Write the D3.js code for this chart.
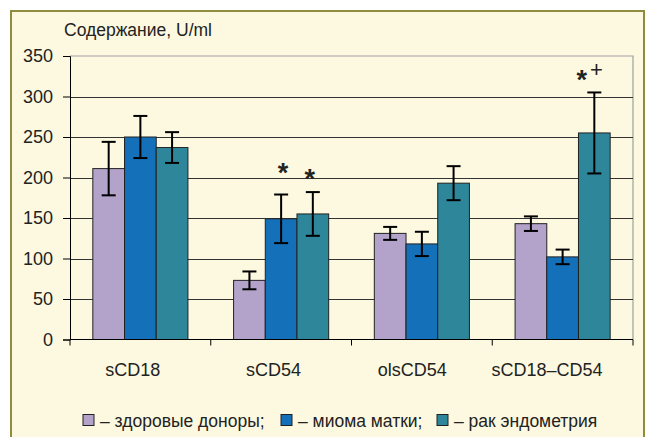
<!DOCTYPE html>
<html>
<head>
<meta charset="utf-8">
<script src="https://cdn.jsdelivr.net/npm/d3@7"></script>
<style>
  body { margin: 0; background: #fff; }
  text { font-family: "Liberation Sans", Arial, sans-serif; fill: #222; }
</style>
</head>
<body>
<div id="chart"></div>
<script>
// Data
const categories = ["sCD18", "sCD54", "olsCD54", "sCD18–CD54"];
const seriesNames = ["– здоровые доноры;", "– миома матки;", "– рак эндометрия"];
const seriesColors = ["#b3a2ca", "#1470b8", "#2e869b"];

const healthy = [211, 73, 131, 143];
const healthyErr = [33, 11, 8, 9];
const myoma = [250, 149, 118, 102];
const myomaErr = [26, 30, 15, 9];
const cancer = [237, 155, 193, 255];
const cancerErr = [19, 27, 21, 50];

const yTicks = [0, 50, 100, 150, 200, 250, 300, 350];

// significance marks: category index, series index, text
const marks = [
    {cat: 1, ser: 1, text: "*", plus: false},
    {cat: 1, ser: 2, text: "*", plus: false},
    {cat: 3, ser: 2, text: "*", plus: true}
];

const width = 647, height = 437;
const plot = {left: 70, right: 633, top: 56, bottom: 339.5};

const svg = d3.select("#chart").append("svg")
    .attr("width", width)
    .attr("height", height);

// Outer box
svg.append("rect")
    .attr("x", 11).attr("y", 11)
    .attr("width", 633).attr("height", 440)
    .attr("fill", "#fcf9e0")
    .attr("stroke", "#8e8c3e")
    .attr("stroke-width", 2);

// Title
svg.append("text")
    .attr("x", 64)
    .attr("y", 35.5)
    .style("font-size", "17.5px")
    .text("Содержание, U/ml");

// Scales
const x0 = d3.scaleBand()
    .domain(categories)
    .range([plot.left, plot.right])
    .paddingInner(0)
    .paddingOuter(0);

const x1 = d3.scaleBand()
    .domain(d3.range(3))
    .range([0, x0.bandwidth()])
    .paddingInner(0)
    .paddingOuter(0.72);

const y = d3.scaleLinear()
    .domain([0, 350])
    .range([plot.bottom, plot.top]);

// Plot border (top and right, gray)
svg.append("path")
    .attr("d", `M${plot.left},${y(350)}H${plot.right}V${plot.bottom}`)
    .attr("fill", "none")
    .attr("stroke", "#a0a0a0")
    .attr("stroke-width", 1.2);

// Gridlines
svg.append("g")
    .selectAll("line")
    .data(yTicks.filter(d => d > 0 && d < 350))
    .join("line")
    .attr("x1", plot.left)
    .attr("x2", plot.right)
    .attr("y1", d => Math.round(y(d)) + 0.5)
    .attr("y2", d => Math.round(y(d)) + 0.5)
    .attr("stroke", "#333")
    .attr("stroke-width", 1);

// Bars
const seriesValues = [healthy, myoma, cancer];
const seriesErrs = [healthyErr, myomaErr, cancerErr];

const rows = [];
categories.forEach((c, i) => {
    seriesValues.forEach((vals, s) => {
        rows.push({cat: c, ci: i, s: s, value: vals[i], err: seriesErrs[s][i]});
    });
});

svg.append("g")
    .selectAll("rect")
    .data(rows)
    .join("rect")
    .attr("x", d => x0(d.cat) + x1(d.s))
    .attr("y", d => y(d.value))
    .attr("width", x1.bandwidth())
    .attr("height", d => y(0) - y(d.value))
    .attr("fill", d => seriesColors[d.s])
    .attr("stroke", "#222")
    .attr("stroke-width", 1);

// Error bars
const errG = svg.append("g")
    .attr("stroke", "#000")
    .attr("stroke-width", 2);

const cx = d => x0(d.cat) + x1(d.s) + x1.bandwidth() / 2;

errG.selectAll(".stem")
    .data(rows)
    .join("line")
    .attr("class", "stem")
    .attr("x1", cx).attr("x2", cx)
    .attr("y1", d => y(d.value + d.err))
    .attr("y2", d => y(d.value - d.err));

errG.selectAll(".cap-top")
    .data(rows)
    .join("line")
    .attr("class", "cap-top")
    .attr("x1", d => cx(d) - 7).attr("x2", d => cx(d) + 7)
    .attr("y1", d => y(d.value + d.err))
    .attr("y2", d => y(d.value + d.err));

errG.selectAll(".cap-bot")
    .data(rows)
    .join("line")
    .attr("class", "cap-bot")
    .attr("x1", d => cx(d) - 7).attr("x2", d => cx(d) + 7)
    .attr("y1", d => y(d.value - d.err))
    .attr("y2", d => y(d.value - d.err));

// Y axis
const yAxis = d3.axisLeft(y)
    .tickValues(yTicks)
    .tickSize(7)
    .tickPadding(10);

const yAxisG = svg.append("g")
    .attr("transform", `translate(${plot.left},0)`)
    .call(yAxis);
yAxisG.select(".domain").attr("stroke", "#000");
yAxisG.selectAll("line").attr("stroke", "#000");
yAxisG.selectAll("text")
    .style("font-size", "18px")
    .style("font-family", "Liberation Sans, Arial, sans-serif")
    .attr("fill", "#222");

// X axis: line, ticks at category boundaries, labels
svg.append("line")
    .attr("x1", plot.left).attr("x2", plot.right)
    .attr("y1", y(0)).attr("y2", y(0))
    .attr("stroke", "#000");

svg.append("g")
    .selectAll("line")
    .data(categories.map(c => x0(c)).concat([plot.right]))
    .join("line")
    .attr("x1", d => d).attr("x2", d => d)
    .attr("y1", y(0)).attr("y2", y(0) + 6)
    .attr("stroke", "#000");

svg.append("g")
    .selectAll("text")
    .data(categories)
    .join("text")
    .attr("x", d => x0(d) + x0.bandwidth() / 2)
    .attr("y", 375.5)
    .attr("text-anchor", "middle")
    .style("font-size", "18px")
    .text(d => d)
    .attr("dx", function() { return -0.14 * this.getComputedTextLength(); });

// Significance marks (star centre ~20px above the error cap)
const markG = svg.append("g");
const starSize = 27;
marks.forEach(m => {
    const bx = x0(categories[m.cat]) + x1(m.ser) + x1.bandwidth() / 2;
    const top = y(seriesValues[m.ser][m.cat] + seriesErrs[m.ser][m.cat]);
    const lift = m.cat === 1 && m.ser === 1 ? 29 : 20;
    const centre = top - lift;
    markG.append("text")
        .attr("x", m.plus ? bx - 12.5 : (m.ser === 1 ? bx + 2 : bx - 3))
        .attr("y", centre + starSize * 0.6)
        .attr("text-anchor", "middle")
        .style("font-size", starSize + "px")
        .style("font-weight", "bold")
        .text(m.text);
    if (m.plus) {
        markG.append("text")
            .attr("x", bx + 2)
            .attr("y", centre + 5)
            .attr("text-anchor", "middle")
            .style("font-size", "22px")
            .text("+");
    }
});

// Legend
const legendX = [83, 281, 437];
const legend = svg.append("g");
seriesNames.forEach((name, i) => {
    legend.append("rect")
        .attr("x", legendX[i])
        .attr("y", 414.5)
        .attr("width", 11)
        .attr("height", 11)
        .attr("fill", seriesColors[i])
        .attr("stroke", "#222")
        .attr("stroke-width", 1);
    legend.append("text")
        .attr("x", legendX[i] + 17)
        .attr("y", 426.5)
        .style("font-size", "17.5px")
        .text(name);
});
</script>
</body>
</html>
